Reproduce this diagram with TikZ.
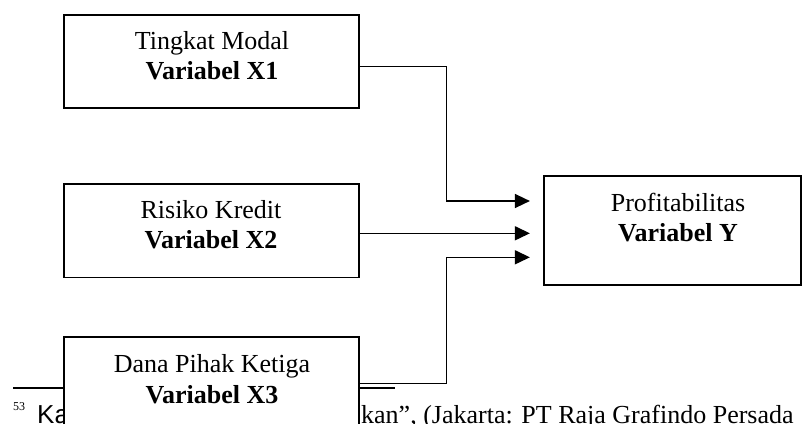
\documentclass[tikz,border=0pt]{standalone}
\usepackage{fontspec}
\setmainfont{Liberation Serif}
\newfontfamily\arialfont{Liberation Sans}
\usetikzlibrary{arrows.meta}
\newcommand{\twoline}[2]{\setlength{\tabcolsep}{0pt}\begin{tabular}[t]{@{}c@{}}#1\\\textbf{#2}\end{tabular}}
\begin{document}
\begin{tikzpicture}[x=1pt,y=-1pt,
  box/.style={draw, line width=1.6pt, fill=white, inner sep=0pt, minimum width=295pt, minimum height=93pt},
  lbl/.style={font=\fontsize{26}{30.5}\selectfont, inner sep=0pt, anchor=base},
  conn/.style={line width=1.5pt, -{Triangle[length=15pt,width=14pt]}},
  fn/.style={font=\fontsize{26}{30}\selectfont, inner sep=0pt, anchor=base west}]
\useasboundingbox (0,0) rectangle (803,423);
\clip (0,0) rectangle (803,423);
\fill[white] (0,0) rectangle (803,423);

% footnote (partly hidden by the third box)
\draw[line width=1.9pt] (13,388.3) -- (395,388.3);
\node[inner sep=0pt, anchor=base west, font=\fontsize{12}{12}\selectfont] (fnnum) at (13,410) {53};
\node[fn] (fnka) at (37,423.5) {\arialfont Ka};
\node[fn] (fnrest) at (361,423.5) {kan”, (Jakarta: PT Raja Grafindo Persada};

% boxes
\node[box] (b1) at (211.5,61.5) {};
\node[lbl] (t1) at (212,49) {\twoline{Tingkat Modal}{Variabel X1}};
\node[box, minimum height=93.5pt] (b2) at (211.5,230.8) {};
\node[lbl] (t2) at (211,218.3) {\twoline{Risiko Kredit}{Variabel X2}};
\node[box] (b3) at (211.5,383.5) {};
\node[lbl] (t3) at (212,372.7) {\twoline{Dana Pihak Ketiga}{Variabel X3}};
\node[box, minimum width=257pt, minimum height=109pt] (Y) at (672.5,230.5) {};
\node[lbl] (tY) at (678,211) {\twoline{Profitabilitas}{Variabel Y}};

% connectors
\draw[conn] ([yshift=-5.2pt]b1.east) -- ++(86.7,0) |- ([xshift=-13.3pt,yshift=29.5pt]Y.west);
\draw[conn] ([yshift=-2.5pt]b2.east) -- ([xshift=-13.3pt,yshift=-2.8pt]Y.west);
\draw[conn] (b3.east) -- ++(86.7,0) |- ([xshift=-13.3pt,yshift=-26.8pt]Y.west);
\end{tikzpicture}
\end{document}
